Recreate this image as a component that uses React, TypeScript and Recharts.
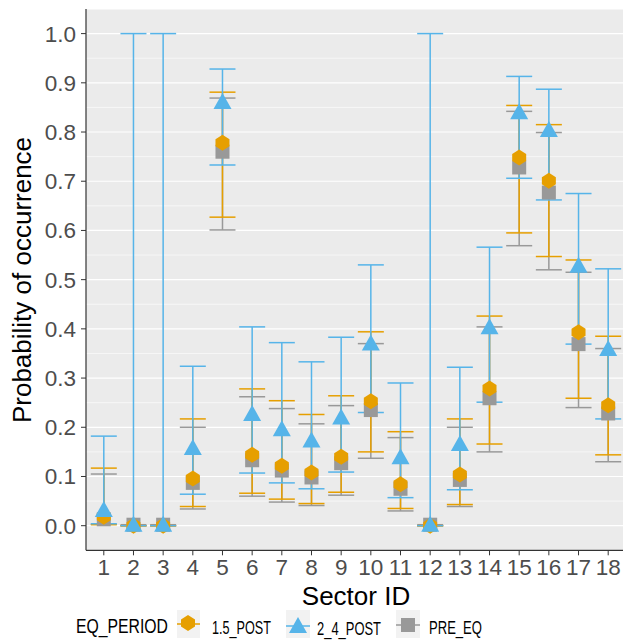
import React from 'react';
import { ComposedChart, Scatter, ErrorBar, XAxis, YAxis, CartesianGrid } from 'recharts';

const sectors = [1, 2, 3, 4, 5, 6, 7, 8, 9, 10, 11, 12, 13, 14, 15, 16, 17, 18];

const preMean = [0.013, 0.002, 0.002, 0.087, 0.760, 0.133, 0.112, 0.098, 0.127, 0.235, 0.075, 0.002, 0.093, 0.259, 0.728, 0.677, 0.369, 0.228];
const preLow = [0.003, 0.0, 0.0, 0.034, 0.601, 0.060, 0.048, 0.041, 0.062, 0.137, 0.030, 0.0, 0.039, 0.150, 0.569, 0.520, 0.240, 0.130];
const preHigh = [0.105, 0.002, 0.002, 0.200, 0.869, 0.262, 0.238, 0.207, 0.244, 0.370, 0.179, 0.002, 0.200, 0.404, 0.842, 0.799, 0.515, 0.360];

const p15Mean = [0.018, 0.0, 0.0, 0.096, 0.778, 0.144, 0.122, 0.108, 0.140, 0.253, 0.084, 0.0, 0.104, 0.279, 0.748, 0.701, 0.393, 0.245];
const p15Low = [0.002, 0.0, 0.0, 0.039, 0.627, 0.066, 0.054, 0.045, 0.068, 0.150, 0.035, 0.0, 0.043, 0.166, 0.595, 0.547, 0.259, 0.144];
const p15High = [0.117, 0.0, 0.0, 0.217, 0.881, 0.278, 0.254, 0.226, 0.264, 0.394, 0.191, 0.0, 0.217, 0.426, 0.854, 0.815, 0.540, 0.385];

const p24Mean = [0.030, 0.0, 0.0, 0.156, 0.859, 0.225, 0.194, 0.171, 0.218, 0.368, 0.137, 0.0, 0.164, 0.401, 0.838, 0.802, 0.526, 0.357];
const p24Low = [0.004, 0.0, 0.0, 0.064, 0.733, 0.107, 0.087, 0.075, 0.109, 0.230, 0.057, 0.0, 0.073, 0.251, 0.706, 0.662, 0.369, 0.217];
const p24High = [0.182, 1.0, 1.0, 0.324, 0.928, 0.404, 0.372, 0.333, 0.383, 0.530, 0.290, 1.0, 0.322, 0.566, 0.913, 0.887, 0.675, 0.522];

const yTicks = [0, 0.1, 0.2, 0.3, 0.4, 0.5, 0.6, 0.7, 0.8, 0.9, 1.0];
const yMinor = [0.05, 0.15, 0.25, 0.35, 0.45, 0.55, 0.65, 0.75, 0.85, 0.95];

const legendTitle = 'EQ_PERIOD';
const seriesNames = ['1.5_POST', '2_4_POST', 'PRE_EQ'];

const ORANGE = '#E69F00';
const BLUE = '#56B4E9';
const GRAY = '#999999';
const FONT = '"Liberation Sans", Arial, sans-serif';

const build = (mean: number[], low: number[], high: number[]) =>
  sectors.map((s, i) => ({ x: s, y: mean[i], err: [mean[i] - low[i], high[i] - mean[i]] }));

const preData = build(preMean, preLow, preHigh);
const p15Data = build(p15Mean, p15Low, p15High);
const p24Data = build(p24Mean, p24Low, p24High);

const DiamondShape = (props: any) => {
  const { cx, cy } = props;
  if (cx == null || cy == null) return null;
  const pts = [
    [cx, cy - 8], [cx + 7, cy - 3.5], [cx + 7, cy + 3.5],
    [cx, cy + 8], [cx - 7, cy + 3.5], [cx - 7, cy - 3.5],
  ].map((p) => p.join(',')).join(' ');
  return <polygon points={pts} fill={ORANGE} />;
};

const TriangleShape = (props: any) => {
  const { cx, cy } = props;
  if (cx == null || cy == null) return null;
  const pts = [[cx, cy - 10], [cx + 9, cy + 6], [cx - 9, cy + 6]].map((p) => p.join(',')).join(' ');
  return <polygon points={pts} fill={BLUE} />;
};

const SquareShape = (props: any) => {
  const { cx, cy } = props;
  if (cx == null || cy == null) return null;
  return <rect x={cx - 7} y={cy - 7} width={14} height={14} fill={GRAY} />;
};

const Legend = () => (
  <svg width={623} height={50} style={{ position: 'absolute', left: 0, top: 590 }}>
    <text x={76} y={43} fontSize={21} fontFamily={FONT} fill="#000" textLength={92} lengthAdjust="spacingAndGlyphs">{legendTitle}</text>
    <rect x={177} y={20} width={23} height={28} fill="#F2F2F2" />
    <line x1={177} x2={200} y1={34} y2={34} stroke={ORANGE} strokeWidth={1.5} />
    <DiamondShape cx={188} cy={33} />
    <text x={212} y={44} fontSize={18.5} fontFamily={FONT} fill="#000" textLength={59} lengthAdjust="spacingAndGlyphs">{seriesNames[0]}</text>
    <rect x={286} y={20} width={24} height={28} fill="#F2F2F2" />
    <line x1={286} x2={310} y1={36} y2={36} stroke={BLUE} strokeWidth={1.5} />
    <TriangleShape cx={298} cy={37} />
    <text x={317} y={45} fontSize={18.5} fontFamily={FONT} fill="#000" textLength={64} lengthAdjust="spacingAndGlyphs">{seriesNames[1]}</text>
    <rect x={396} y={20} width={24} height={28} fill="#F2F2F2" />
    <line x1={396} x2={420} y1={35} y2={35} stroke={GRAY} strokeWidth={1.5} />
    <SquareShape cx={408} cy={35} />
    <text x={429} y={44} fontSize={18.5} fontFamily={FONT} fill="#000" textLength={53} lengthAdjust="spacingAndGlyphs">{seriesNames[2]}</text>
  </svg>
);

export default function App() {
  return (
    <div style={{ position: 'absolute', left: 0, top: 0, width: 623, height: 640, overflow: 'hidden', background: '#fff' }}>
      <ComposedChart width={640} height={640} margin={{ top: 9, right: 14, bottom: 0, left: 0 }}>
        <CartesianGrid vertical={false} horizontalValues={yMinor} stroke="#FFFFFF" strokeWidth={0.6} fill="#EBEBEB" />
        <CartesianGrid vertical={false} stroke="#FFFFFF" strokeWidth={1.2} />
        <XAxis
          type="number"
          dataKey="x"
          domain={[0.4, 18.6]}
          ticks={sectors}
          interval={0}
          allowDataOverflow
          height={89.7}
          tickSize={5}
          tickMargin={4}
          axisLine={{ stroke: '#333333', strokeWidth: 1.2 }}
          tickLine={{ stroke: '#333333' }}
          tick={{ fill: '#4D4D4D', fontSize: 22.5, fontFamily: FONT }}
          label={(p: any) => (
            <text x={356} y={605} textAnchor="middle" fontSize={26} fontFamily={FONT} fill="#000">Sector ID</text>
          )}
        />
        <YAxis
          type="number"
          dataKey="y"
          domain={[-0.05, 1.05]}
          ticks={yTicks}
          interval={0}
          allowDataOverflow
          width={86}
          tickSize={5}
          tickMargin={5}
          tickFormatter={(v: number) => v.toFixed(1)}
          axisLine={{ stroke: '#333333', strokeWidth: 1.2 }}
          tickLine={{ stroke: '#333333' }}
          tick={{ fill: '#4D4D4D', fontSize: 22.5, fontFamily: FONT }}
          label={(p: any) => (
            <text x={31} y={280} transform="rotate(-90 31 280)" textAnchor="middle" fontSize={26} fontFamily={FONT} fill="#000">Probability of occurrence</text>
          )}
        />
        <Scatter name="PRE_EQ" data={preData} dataKey="y" shape={SquareShape} isAnimationActive={false}>
          <ErrorBar dataKey="err" direction="y" width={13} stroke={GRAY} strokeWidth={1.5} isAnimationActive={false} />
        </Scatter>
        <Scatter name="1.5_POST" data={p15Data} dataKey="y" shape={DiamondShape} isAnimationActive={false}>
          <ErrorBar dataKey="err" direction="y" width={13} stroke={ORANGE} strokeWidth={1.5} isAnimationActive={false} />
        </Scatter>
        <Scatter name="2_4_POST" data={p24Data} dataKey="y" shape={TriangleShape} isAnimationActive={false}>
          <ErrorBar dataKey="err" direction="y" width={13} stroke={BLUE} strokeWidth={1.5} isAnimationActive={false} />
        </Scatter>
      </ComposedChart>
      <Legend />
    </div>
  );
}
